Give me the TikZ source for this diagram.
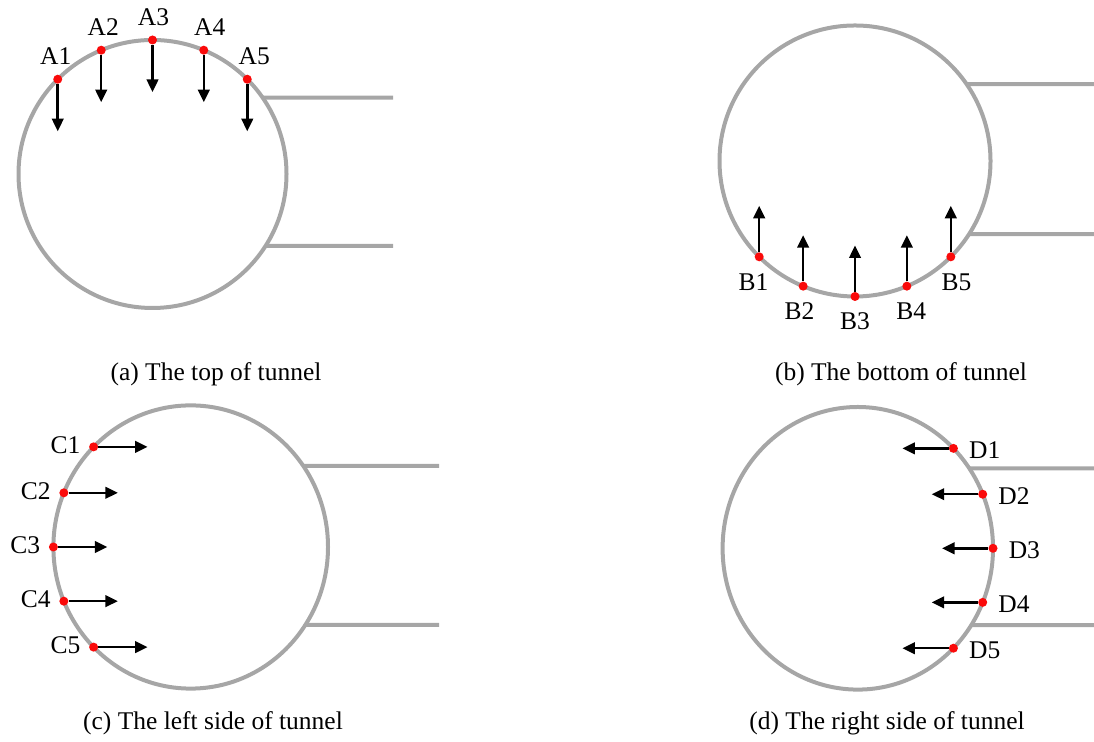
\documentclass[tikz,border=0pt]{standalone}
\usepackage{fontspec}
\setmainfont{Liberation Serif}
\usepackage{tikz}
\usetikzlibrary{calc,arrows.meta}
\definecolor{tunnelgray}{RGB}{166,166,166}
\definecolor{ptred}{RGB}{250,10,10}

\begin{document}
\begin{tikzpicture}[
  x=0.02cm, y=0.02cm,
  font=\fontsize{14.5}{17}\selectfont,
  tunnel/.style={draw=tunnelgray, line width=0.08cm},
  dot/.style={circle, fill=ptred, inner sep=0pt, minimum size=0.18cm},
  arr/.style={-{Triangle[length=0.25cm, width=0.23cm]}, line width=0.05cm},
  lbl/.style={inner sep=0pt, anchor=base},
  subcap/.style={inner sep=0pt, anchor=base},
]
\useasboundingbox (0,0) rectangle (1094,742);

% --- (a) top ---
\coordinate (ta) at (152.5,568);
\draw[tunnel] (ta) circle[radius=134];
\draw[tunnel] ($(ta)+(34.7:134)$) -- (393,644.3);
\draw[tunnel] ($(ta)+(-32.5:134)$) -- (393,496.0);
\node[dot] (a1) at ($(ta)+(135:134)$) {};
\node[dot] (a2) at ($(ta)+(112.5:134)$) {};
\node[dot] (a3) at ($(ta)+(90:134)$) {};
\node[dot] (a4) at ($(ta)+(67.5:134)$) {};
\node[dot] (a5) at ($(ta)+(45:134)$) {};
\draw[arr] (a1) -- ++(0,-52);
\draw[arr] (a2) -- ++(0,-52);
\draw[arr] (a3) -- ++(0,-52);
\draw[arr] (a4) -- ++(0,-52);
\draw[arr] (a5) -- ++(0,-52);
\node[lbl] (la1) at ([shift={(-2,14.6)}]a1) {A1};
\node[lbl] (la2) at ([shift={(2,14.6)}]a2) {A2};
\node[lbl] (la3) at ([shift={(1,14.6)}]a3) {A3};
\node[lbl] (la4) at ([shift={(6,14.6)}]a4) {A4};
\node[lbl] (la5) at ([shift={(7,14.6)}]a5) {A5};
\node[subcap] (capa) at (216,361.3) {(a) The top of tunnel};

% --- (b) bottom ---
\coordinate (tb) at (855,581);
\draw[tunnel] (tb) circle[radius=135.5];
\draw[tunnel] ($(tb)+(34.5:135.5)$) -- (1094,657.75);
\draw[tunnel] ($(tb)+(-32.7:135.5)$) -- (1094,507.8);
\node[dot] (b1) at ($(tb)+(225:135.5)$) {};
\node[dot] (b2) at ($(tb)+(247.5:135.5)$) {};
\node[dot] (b3) at ($(tb)+(270:135.5)$) {};
\node[dot] (b4) at ($(tb)+(292.5:135.5)$) {};
\node[dot] (b5) at ($(tb)+(315:135.5)$) {};
\draw[arr] (b1) -- ++(0,51);
\draw[arr] (b2) -- ++(0,51);
\draw[arr] (b3) -- ++(0,51);
\draw[arr] (b4) -- ++(0,51);
\draw[arr] (b5) -- ++(0,51);
\node[lbl] (lb1) at ([shift={(-5.6,-33.4)}]b1) {B1};
\node[lbl] (lb2) at ([shift={(-3.7,-33.4)}]b2) {B2};
\node[lbl] (lb3) at ([shift={(0,-33.4)}]b3) {B3};
\node[lbl] (lb4) at ([shift={(4.4,-33.4)}]b4) {B4};
\node[lbl] (lb5) at ([shift={(5.7,-33.4)}]b5) {B5};
\node[subcap] (capb) at (901,361.3) {(b) The bottom of tunnel};

% --- (c) left side ---
\coordinate (tc) at (190.7,195);
\draw[tunnel] (tc) ellipse[x radius=137.3, y radius=141.6];
\draw[tunnel] ($(tc)+(34.9:137.3 and 141.6)$) -- (439,276.0);
\draw[tunnel] ($(tc)+(-33.4:137.3 and 141.6)$) -- (439,117.05);
\node[dot] (c1) at ($(tc)+(135:137.3 and 141.6)$) {};
\node[dot] (c2) at ($(tc)+(157.5:137.3 and 141.6)$) {};
\node[dot] (c3) at ($(tc)+(180:137.3 and 141.6)$) {};
\node[dot] (c4) at ($(tc)+(202.5:137.3 and 141.6)$) {};
\node[dot] (c5) at ($(tc)+(225:137.3 and 141.6)$) {};
\draw[arr] (c1) -- ++(54,0);
\draw[arr] (c2) -- ++(54,0);
\draw[arr] (c3) -- ++(54,0);
\draw[arr] (c4) -- ++(54,0);
\draw[arr] (c5) -- ++(54,0);
\node[lbl, anchor=base east] (lc1) at ([shift={(-13,-6.6)}]c1) {C1};
\node[lbl, anchor=base east] (lc2) at ([shift={(-13,-6.6)}]c2) {C2};
\node[lbl, anchor=base east] (lc3) at ([shift={(-13,-6.6)}]c3) {C3};
\node[lbl, anchor=base east] (lc4) at ([shift={(-13,-6.6)}]c4) {C4};
\node[lbl, anchor=base east] (lc5) at ([shift={(-13,-6.6)}]c5) {C5};
\node[subcap] (capc) at (213,12.5) {(c) The left side of tunnel};

% --- (d) right side ---
\coordinate (td) at (857.8,193.7);
\draw[tunnel] (td) ellipse[x radius=135.2, y radius=141.3];
\draw[tunnel] ($(td)+(34.5:135.2 and 141.3)$) -- (1094,273.73);
\draw[tunnel] ($(td)+(-32.9:135.2 and 141.3)$) -- (1094,116.95);
\node[dot] (d1) at ($(td)+(45:135.2 and 141.3)$) {};
\node[dot] (d2) at ($(td)+(22.5:135.2 and 141.3)$) {};
\node[dot] (d3) at ($(td)+(0:135.2 and 141.3)$) {};
\node[dot] (d4) at ($(td)+(-22.5:135.2 and 141.3)$) {};
\node[dot] (d5) at ($(td)+(-45:135.2 and 141.3)$) {};
\draw[arr] (d1) -- ++(-51,0);
\draw[arr] (d2) -- ++(-51,0);
\draw[arr] (d3) -- ++(-51,0);
\draw[arr] (d4) -- ++(-51,0);
\draw[arr] (d5) -- ++(-51,0);
\node[lbl, anchor=base west] (ld1) at ([shift={(15.4,-9.9)}]d1) {D1};
\node[lbl, anchor=base west] (ld2) at ([shift={(15.4,-9.9)}]d2) {D2};
\node[lbl, anchor=base west] (ld3) at ([shift={(15.4,-9.9)}]d3) {D3};
\node[lbl, anchor=base west] (ld4) at ([shift={(15.4,-9.9)}]d4) {D4};
\node[lbl, anchor=base west] (ld5) at ([shift={(15.4,-9.9)}]d5) {D5};
\node[subcap] (capd) at (887,12.5) {(d) The right side of tunnel};
\end{tikzpicture}
\end{document}
